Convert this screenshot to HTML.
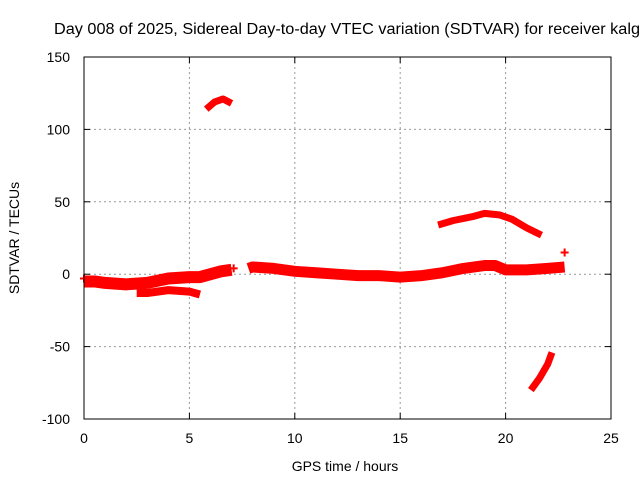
<!DOCTYPE html>
<html><head><meta charset="utf-8"><style>
body{margin:0;background:#fff;overflow:hidden}
svg text{font-family:"Liberation Sans",sans-serif;font-size:14px;fill:#000}
</style></head><body>
<svg id="c" width="640" height="480" xmlns="http://www.w3.org/2000/svg">
<text x="54" y="34" text-anchor="start" style="font-size:15.5px" textLength="586" lengthAdjust="spacingAndGlyphs">Day 008 of 2025, Sidereal Day-to-day VTEC variation (SDTVAR) for receiver kalg</text>
<text x="345" y="471" text-anchor="middle">GPS time / hours</text>
<text transform="translate(19,238) rotate(-90)" text-anchor="middle">SDTVAR / TECUs</text>
<g id="grid"></g><g id="marks"></g>
<rect x="84" y="57" width="527" height="362" fill="none" stroke="#000" stroke-width="1"/>
</svg>
<script>
const xTicks=[0,5,10,15,20,25];
const yTicks=[150,100,50,0,-50,-100];
const bandMainX=[0,0.5,1,2,3,4,5,5.5,6,6.5,7];
const bandMainY=[-5,-5,-6,-7,-6,-3,-2,-2,0,2,3];
const bandMain2X=[7.8,8,9,10,11,12,13,14,15,16,17,18,19,19.5,20,21,22,22.8];
const bandMain2Y=[4,5,4,2,1,0,-1,-1,-2,-1,1,4,6,6,3,3,4,5];
const bandLowX=[2.5,3,4,5,5.5];
const bandLowY=[-13,-13,-11,-12,-14];
const arcTopX=[5.8,6.2,6.6,7];
const arcTopY=[114,119,121,118];
const arcMidX=[16.8,17.5,18.5,19,19.7,20.3,21,21.7];
const arcMidY=[34,37,40,42,41,38,32,27];
const arcLowX=[21.2,21.6,22,22.2];
const arcLowY=[-80,-72,-62,-54];
const singleX=[22.8,7.1,0];
const singleY=[15,4,-3];
const X=v=>84+v*527/25, Y=v=>419-(v+100)*362/250;
const NS="http://www.w3.org/2000/svg";
const grid=document.getElementById('grid'), marks=document.getElementById('marks');
function mk(t,a,p){const e=document.createElementNS(NS,t);for(const k in a)e.setAttribute(k,a[k]);p.appendChild(e);return e;}
xTicks.forEach(v=>{
 if(v>0&&v<25){const l=mk('line',{x1:X(v),x2:X(v),y1:57,y2:419,stroke:'#999','stroke-dasharray':'2,3'},grid);
 
 }
 mk('line',{x1:X(v),x2:X(v),y1:419,y2:413,stroke:'#000'},grid);
 mk('line',{x1:X(v),x2:X(v),y1:57,y2:63,stroke:'#000'},grid);
 const t=mk('text',{x:X(v),y:443,'text-anchor':'middle'},grid);t.textContent=v;
 
 
});
yTicks.forEach(v=>{
 if(v>-100&&v<150){const l=mk('line',{x1:84,x2:611,y1:Y(v),y2:Y(v),stroke:'#999','stroke-dasharray':'2,3'},grid);
 
 }
 mk('line',{x1:84,x2:90,y1:Y(v),y2:Y(v),stroke:'#000'},grid);
 mk('line',{x1:605,x2:611,y1:Y(v),y2:Y(v),stroke:'#000'},grid);
 const t=mk('text',{x:70,y:Y(v)+5,'text-anchor':'end'},grid);t.textContent=v;
 
 
});
function band(xs,ys,w,name){
 const pts=xs.map((x,i)=>X(x)+','+Y(ys[i])).join(' ');
 const p=mk('polyline',{points:pts,fill:'none',stroke:'#f00','stroke-width':w,'stroke-linejoin':'round','stroke-linecap':'butt'},marks);
 
 
}
band(bandMainX,bandMainY,12,'series-main-band-early');
band(bandMain2X,bandMain2Y,11,'series-main-band-late');
band(bandLowX,bandLowY,8,'series-lower-band');
band(arcTopX,arcTopY,7,'series-top-arc');
band(arcMidX,arcMidY,7,'series-mid-arc');
band(arcLowX,arcLowY,7,'series-low-arc');
singleX.forEach((x,i)=>{
 const p=mk('path',{d:`M${X(x)-4},${Y(singleY[i])}h8M${X(x)},${Y(singleY[i])-4}v8`,stroke:'#f00','stroke-width':2},marks);
 
 
});
</script>
</body></html>
